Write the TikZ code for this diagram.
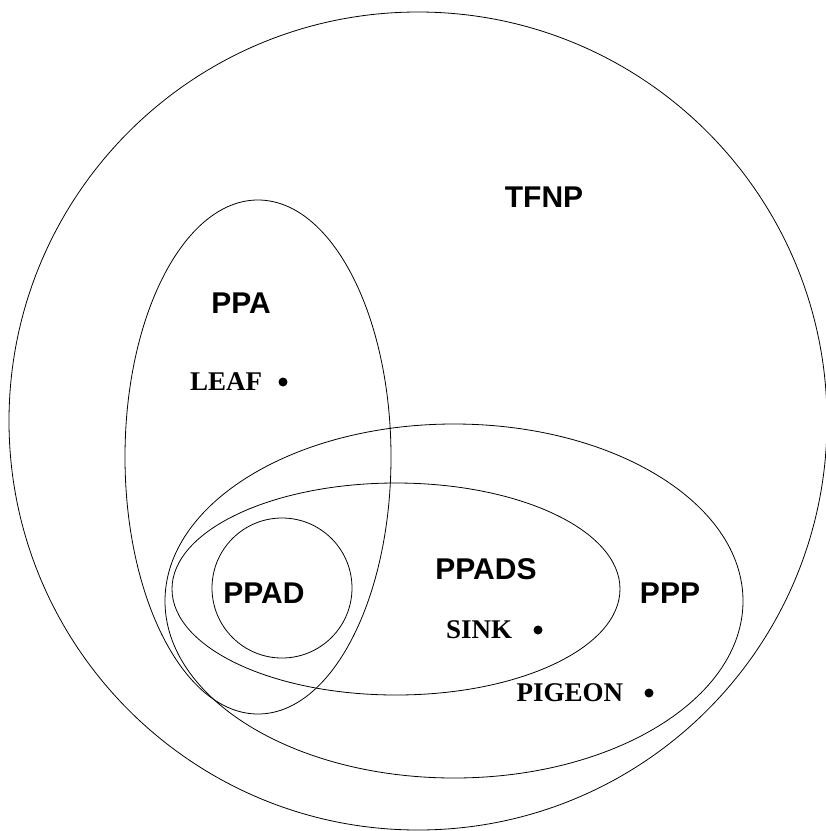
\documentclass[tikz,border=0pt]{standalone}
\usepackage{fontspec}
\setmainfont{Liberation Serif}
\setsansfont{Liberation Sans}
\usetikzlibrary{positioning}
\tikzset{
  cls/.style={font=\sffamily\bfseries\fontsize{30}{34}\selectfont},
  prob/.style={font=\bfseries\fontsize{27}{30}\selectfont, inner sep=0pt},
  pt/.style={circle, fill, inner sep=0pt, minimum size=9pt}
}

\begin{document}
\begin{tikzpicture}[x=1pt,y=-1pt]
    \useasboundingbox (0,0) rectangle (826,831);
    \draw [line width=0.8pt] (418,421) circle [radius=409pt];
    \draw [line width=0.8pt] (258,457) ellipse [x radius=133pt, y radius=257pt];
    \draw [line width=0.8pt] (454,601) ellipse [x radius=289pt, y radius=177pt];
    \draw [line width=0.8pt] (396,589) ellipse [x radius=224pt, y radius=106pt];
    \draw [line width=0.8pt] (282,588) circle [radius=70pt];
    \node [cls] (tfnp) at (544,197) {TFNP};
    \node [cls] (ppa) at (241,303) {PPA};
    \node [cls] (ppad) at (264,593) {PPAD};
    \node [cls] (ppads) at (486,569) {PPADS};
    \node [cls] (ppp) at (670,593) {PPP};
    \node [pt] (leafdot) at (283,382) {};
    \node [prob, left=16pt of leafdot] (leaf) {LEAF};
    \node [pt] (sinkdot) at (538,630) {};
    \node [prob, left=21pt of sinkdot] (sink) {SINK};
    \node [pt] (pigeondot) at (649,693) {};
    \node [prob, left=21pt of pigeondot] (pigeon) {PIGEON};
\end{tikzpicture}
\end{document}
